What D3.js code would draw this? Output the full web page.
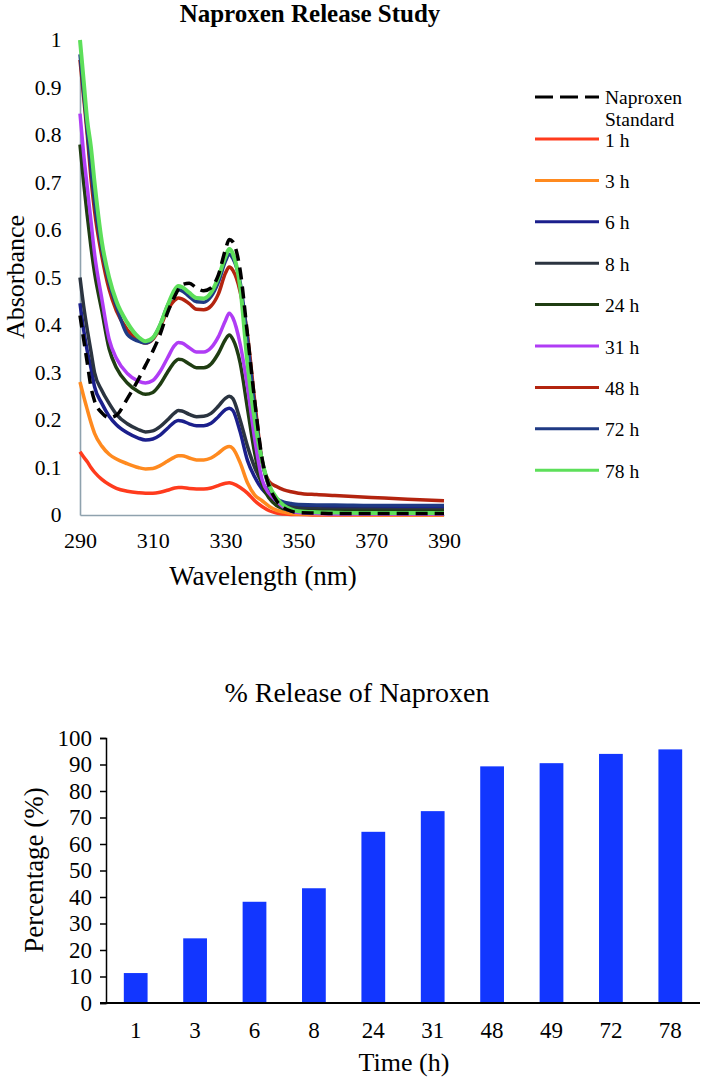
<!DOCTYPE html>
<html>
<head>
<meta charset="utf-8">
<script src="https://cdn.jsdelivr.net/npm/d3@7"></script>
<style>
  html, body { margin: 0; padding: 0; background: #fff; }
  svg { display: block; }
  text { font-family: "Liberation Serif", "Times New Roman", serif; fill: #000; }
</style>
</head>
<body>
<svg id="chart" width="702" height="1081"></svg>
<script>
// ---------------- DATA ----------------
const wavelengths = [290,291,292,293,294,296,298,300,303,306,308,310,312,314,316,317,318,320,322,324,326,328,330,331,332,334,336,338,340,342,344,346,348,350,355,360,370,380,390];

const naproxenStandard = [0.42,0.37,0.32,0.27,0.24,0.215,0.205,0.21,0.245,0.285,0.315,0.345,0.38,0.425,0.46,0.475,0.485,0.488,0.478,0.472,0.478,0.505,0.56,0.58,0.575,0.515,0.38,0.24,0.12,0.06,0.03,0.015,0.008,0.005,0.004,0.003,0.003,0.003,0.003];
const abs1h  = [0.133,0.122,0.112,0.1,0.09,0.075,0.064,0.056,0.05,0.047,0.046,0.046,0.048,0.052,0.057,0.058,0.058,0.056,0.055,0.055,0.057,0.062,0.067,0.068,0.066,0.058,0.046,0.03,0.018,0.009,0.004,0.002,0.001,0.001,0,0,0,0,0];
const abs3h  = [0.28,0.25,0.222,0.195,0.172,0.145,0.128,0.118,0.108,0.1,0.097,0.098,0.104,0.113,0.122,0.125,0.125,0.12,0.116,0.116,0.12,0.13,0.142,0.144,0.14,0.11,0.068,0.042,0.03,0.018,0.01,0.006,0.003,0.002,0.001,0.001,0,0,0];
const abs6h  = [0.446,0.39,0.345,0.31,0.27,0.235,0.208,0.19,0.173,0.162,0.158,0.16,0.168,0.182,0.196,0.199,0.198,0.192,0.188,0.188,0.193,0.207,0.222,0.225,0.22,0.175,0.115,0.08,0.055,0.04,0.03,0.024,0.021,0.02,0.019,0.018,0.018,0.017,0.017];
const abs8h  = [0.5,0.44,0.39,0.345,0.3,0.262,0.235,0.212,0.192,0.18,0.175,0.177,0.186,0.2,0.215,0.22,0.219,0.212,0.207,0.208,0.214,0.229,0.246,0.25,0.245,0.2,0.145,0.1,0.068,0.048,0.034,0.024,0.018,0.015,0.013,0.012,0.012,0.011,0.011];
const abs24h = [0.78,0.7,0.63,0.565,0.51,0.43,0.35,0.31,0.278,0.26,0.254,0.258,0.275,0.3,0.322,0.328,0.327,0.318,0.31,0.31,0.318,0.34,0.37,0.379,0.37,0.32,0.225,0.13,0.065,0.035,0.02,0.013,0.01,0.009,0.008,0.008,0.008,0.008,0.008];
const abs31h = [0.845,0.76,0.69,0.62,0.55,0.455,0.37,0.33,0.298,0.282,0.278,0.283,0.302,0.33,0.357,0.363,0.362,0.352,0.343,0.343,0.352,0.375,0.41,0.425,0.415,0.36,0.27,0.16,0.075,0.045,0.03,0.016,0.008,0.005,0.003,0.002,0.002,0.002,0.002];
const abs48h = [0.958,0.88,0.8,0.71,0.64,0.545,0.475,0.43,0.39,0.368,0.362,0.37,0.395,0.43,0.452,0.457,0.455,0.445,0.433,0.432,0.44,0.465,0.51,0.522,0.515,0.47,0.38,0.24,0.115,0.07,0.06,0.053,0.049,0.046,0.043,0.041,0.037,0.033,0.03];
const abs72h = [0.97,0.89,0.81,0.73,0.66,0.56,0.49,0.44,0.38,0.366,0.362,0.372,0.4,0.44,0.467,0.474,0.472,0.46,0.449,0.448,0.46,0.49,0.535,0.549,0.54,0.49,0.37,0.225,0.115,0.058,0.035,0.027,0.024,0.022,0.021,0.021,0.02,0.02,0.02];
const abs78h = [1.0,0.915,0.83,0.775,0.7,0.575,0.5,0.45,0.405,0.375,0.366,0.373,0.4,0.44,0.474,0.482,0.48,0.468,0.457,0.456,0.468,0.5,0.545,0.56,0.55,0.48,0.32,0.2,0.115,0.062,0.036,0.02,0.012,0.008,0.006,0.005,0.004,0.004,0.004];

const seriesNames  = ["Naproxen Standard","1 h","3 h","6 h","8 h","24 h","31 h","48 h","72 h","78 h"];
const seriesValues = [naproxenStandard, abs1h, abs3h, abs6h, abs8h, abs24h, abs31h, abs48h, abs72h, abs78h];
const seriesColors = ["#000000","#ff3b1d","#ff8a1f","#1b1f8c","#2b3440","#1f3d12","#b03cf5","#b3240f","#1f3a84","#5ddf5a"];

const absTicks = [0,0.1,0.2,0.3,0.4,0.5,0.6,0.7,0.8,0.9,1];
const wlTicks  = [290,310,330,350,370,390];

const releaseTimes  = ["1","3","6","8","24","31","48","49","72","78"];
const releasePct    = [11.3,24.4,38.2,43.3,64.6,72.4,89.3,90.5,94.0,95.7];
const pctTicks      = [0,10,20,30,40,50,60,70,80,90,100];

// ---------------- TOP CHART ----------------
const svg = d3.select("#chart");
const axisGray = "#8fa2ae";
const serif = "Liberation Serif";

const x = d3.scaleLinear().domain([290, 390]).range([80, 444]);
const y = d3.scaleLinear().domain([0, 1]).range([515, 40]);

svg.append("text").attr("x", 310).attr("y", 22).attr("text-anchor", "middle")
  .style("font-size", "25px").style("font-weight", "bold").text("Naproxen Release Study");

const yAx = svg.append("g").attr("transform", "translate(80,0)")
  .call(d3.axisLeft(y).tickValues(absTicks).tickSize(0).tickPadding(18.5).tickFormat(d => d3.format("~g")(d)));
yAx.select(".domain").attr("stroke", axisGray).attr("stroke-width", 1.6);
yAx.selectAll("text").style("font-size", "21.5px").style("font-family", serif);

const xAx = svg.append("g").attr("transform", "translate(0,515)")
  .call(d3.axisBottom(x).tickValues(wlTicks).tickSize(0).tickPadding(17).tickFormat(d3.format("d")));
xAx.select(".domain").attr("stroke", axisGray).attr("stroke-width", 1.6);
xAx.selectAll("text").style("font-size", "22px").style("font-family", serif);

svg.append("text").attr("x", 263).attr("y", 585).attr("text-anchor", "middle")
  .style("font-size", "27px").text("Wavelength (nm)");
svg.append("text").attr("transform", "translate(24,277) rotate(-90)").attr("text-anchor", "middle")
  .style("font-size", "26px").text("Absorbance");

const line = d3.line()
  .x((d, i) => x(wavelengths[i]))
  .y(d => y(d))
  .curve(d3.curveMonotoneX);

// draw time series in order, then the standard on top
const drawOrder = [1,2,3,4,5,6,7,8,9,0];
drawOrder.forEach(si => {
  const p = svg.append("path")
    .attr("d", line(seriesValues[si]))
    .attr("fill", "none")
    .attr("stroke", seriesColors[si])
    .attr("stroke-width", si === 9 ? 4 : 3.5)
    .attr("stroke-linejoin", "round");
  if (si === 0) p.attr("stroke-dasharray", "12,7").attr("stroke-width", 3.5);
});

// legend
const legX1 = 535, legX2 = 599, legTextX = 605;
const legY0 = 97, legStep = 41.4;
seriesNames.forEach((name, i) => {
  const ly = i === 0 ? legY0 : 139 + (i - 1) * legStep;
  const l = svg.append("line").attr("x1", legX1).attr("x2", legX2).attr("y1", ly).attr("y2", ly)
    .attr("stroke", seriesColors[i]).attr("stroke-width", 3);
  if (i === 0) {
    l.attr("stroke-dasharray", "18,7");
    const t = svg.append("text").attr("x", legTextX).attr("y", ly + 6.5).style("font-size", "19.5px");
    const parts = name.split(" ");
    t.append("tspan").attr("x", legTextX).text(parts[0]);
    t.append("tspan").attr("x", legTextX).attr("dy", 22).text(parts[1]);
  } else {
    svg.append("text").attr("x", legTextX).attr("y", ly + 7.5).style("font-size", "19.5px").text(name);
  }
});

// ---------------- BOTTOM CHART ----------------
const bx = d3.scaleBand().domain(releaseTimes).range([106, 700]).paddingInner(0.6).paddingOuter(0.3);
const by = d3.scaleLinear().domain([0, 100]).range([1003, 738]);

svg.append("text").attr("x", 357).attr("y", 702).attr("text-anchor", "middle")
  .style("font-size", "28px").text("% Release of Naproxen");

svg.selectAll("rect.bar").data(releasePct).enter().append("rect")
  .attr("class", "bar")
  .attr("x", (d, i) => bx(releaseTimes[i]))
  .attr("width", bx.bandwidth())
  .attr("y", d => by(d))
  .attr("height", d => by(0) - by(d))
  .attr("fill", "#1236ff");

const byAx = svg.append("g").attr("transform", "translate(106,0)")
  .call(d3.axisLeft(by).tickValues(pctTicks).tickSize(6).tickPadding(8).tickFormat(d3.format("d")));
byAx.select(".domain").attr("stroke", "#000").attr("stroke-width", 1.5);
byAx.selectAll(".tick line").attr("stroke", "#000").attr("stroke-width", 1.5);
byAx.selectAll("text").style("font-size", "23px").style("font-family", serif);

const bxAx = svg.append("g").attr("transform", "translate(0,1003)")
  .call(d3.axisBottom(bx).tickSize(0).tickPadding(19));
bxAx.select(".domain").remove();
bxAx.append("line").attr("x1", 100).attr("x2", 700).attr("y1", 0).attr("y2", 0)
  .attr("stroke", "#000").attr("stroke-width", 2);
bxAx.selectAll("text").style("font-size", "23px").style("font-family", serif);

svg.append("text").attr("x", 404).attr("y", 1071).attr("text-anchor", "middle")
  .style("font-size", "26px").text("Time (h)");
svg.append("text").attr("transform", "translate(43,870) rotate(-90)").attr("text-anchor", "middle")
  .style("font-size", "27px").text("Percentage (%)");
</script>
</body>
</html>
